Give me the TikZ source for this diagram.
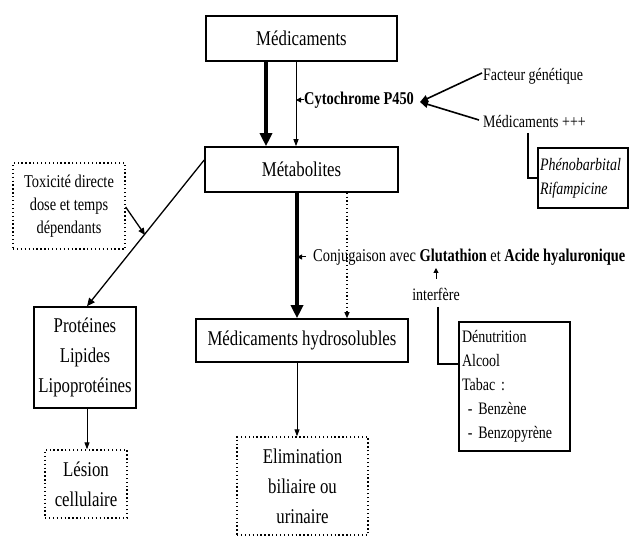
\documentclass[tikz,border=0pt]{standalone}
\usepackage{fontspec}
\setmainfont{Liberation Serif}[FakeStretch=0.8]
\usetikzlibrary{arrows.meta}
\begin{document}
\begin{tikzpicture}[x=1pt,y=-1pt,
  box/.style={draw, line width=1.6pt, inner sep=0pt, align=center},
  dotbox/.style={draw, line width=1.3pt, dash pattern=on 1.3pt off 2.6pt, inner sep=0pt, align=center},
  big/.style={font=\fontsize{21}{30}\selectfont},
  med/.style={font=\fontsize{18}{23}\selectfont},
  sm/.style={font=\fontsize{17.5}{24}\selectfont},
  heavyarrow/.style={line width=4pt, -{Triangle[length=13pt,width=12pt]}},
  thinarrow/.style={line width=1pt, -{Triangle[length=7pt,width=5pt]}},
  tinyarrow/.style={line width=1pt, -{Triangle[length=5pt,width=5pt]}},
  link/.style={line width=1.6pt},
]
\useasboundingbox[fill=white] (0,0) rectangle (630,537);

% nodes
\node[box,big,minimum width=191pt,minimum height=45pt] (medic) at (301.5,38.5) {Médicaments};
\node[box,big,minimum width=193pt,minimum height=45pt] (metab) at (301.5,169.5) {Métabolites};
\node[dotbox,med,minimum width=112pt,minimum height=86pt] (tox) at (69,206) {Toxicité directe\\dose et temps\\dépendants};
\node[box,big,minimum width=102pt,minimum height=101pt] (prot) at (85,357.5) {Protéines\\Lipides\\Lipoprotéines};
\node[dotbox,big,minimum width=82pt,minimum height=68pt] (lesion) at (86,484) {Lésion\\cellulaire};
\node[box,big,minimum width=212pt,minimum height=43pt] (hydro) at (302,340.5) {Médicaments hydrosolubles};
\node[dotbox,big,minimum width=131pt,minimum height=98pt] (elim) at (302.5,486) {Elimination\\biliaire ou\\urinaire};
\node[box,sm,minimum width=111pt,minimum height=129pt,align=left,text width=105pt] (denut) at (514.5,386.5) {Dénutrition\\Alcool\\Tabac :\\\ - Benzène\\\ - Benzopyrène};
\node[box,sm,minimum width=90pt,minimum height=60pt,align=left,text width=86pt] (pheno) at (583,178) {\itshape Phénobarbital\\\itshape Rifampicine};

\node[med,anchor=west,inner sep=0pt] (cyto) at (304,100) {\bfseries Cytochrome P450};
\node[sm,anchor=west,inner sep=0pt] (fact) at (483,76) {Facteur génétique};
\node[sm,anchor=west,inner sep=0pt] (medp) at (483,122) {Médicaments +++};
\node[med,anchor=west,inner sep=0pt] (conj) at (313,257) {Conjugaison avec \textbf{Glutathion} et \textbf{Acide hyaluronique}};
\node[sm,inner sep=0pt] (interf) at (436,294) {interfère};

% coordinates
\coordinate (xa) at (266,0);
\coordinate (xb) at (296,0);
\coordinate (xc) at (297,0);
\coordinate (xd) at (347,0);
\coordinate (cytotip) at (420,102);
\coordinate (tt) at (145,235);
\coordinate (upbot) at (436,279);
\coordinate (uptop) at (436,268);
\coordinate (ia) at (438,307);
\coordinate (ib) at (438,364);
\coordinate (pa) at (528,133);
\coordinate (pb) at (528,178);

% connectors
\draw[heavyarrow] (medic.south -| xa) -- (metab.north -| xa);
\draw[thinarrow] (medic.south -| xb) -- (metab.north -| xb);
\draw[tinyarrow] (cyto.west) -- (cyto.west -| xb);
\draw[link,-{Triangle[length=8pt,width=7pt]}] (482,73) -- (cytotip);
\draw[link,-{Triangle[length=8pt,width=7pt]}] (479,120) -- (cytotip);

\draw[heavyarrow] (metab.south -| xc) -- (hydro.north -| xc);
\draw[line width=1.1pt, dash pattern=on 1.2pt off 2.6pt, -{Triangle[length=6pt,width=5pt]}] (metab.south -| xd) -- (hydro.north -| xd);
\draw[tinyarrow] ([xshift=-7pt]conj.west) -- (conj.west -| xc);

\draw[line width=1.3pt, -{Triangle[length=8pt,width=7pt]}] ([yshift=9.5pt]metab.west) -- ([xshift=2pt]prot.north);
\draw[line width=1.3pt, -{Triangle[length=7pt,width=6pt]}] ([yshift=-1pt]tox.east) -- (tt);
\draw[thinarrow] ([xshift=2pt]prot.south) -- ([xshift=1pt]lesion.north);
\draw[thinarrow] (hydro.south -| xc) -- (elim.north -| xc);

\draw[tinyarrow] (upbot) -- (uptop);
\draw[link] (ia) -- (ib) -- (ib -| denut.west);
\draw[link] (pa) -- (pb) -- (pb -| pheno.west);
\end{tikzpicture}
\end{document}
